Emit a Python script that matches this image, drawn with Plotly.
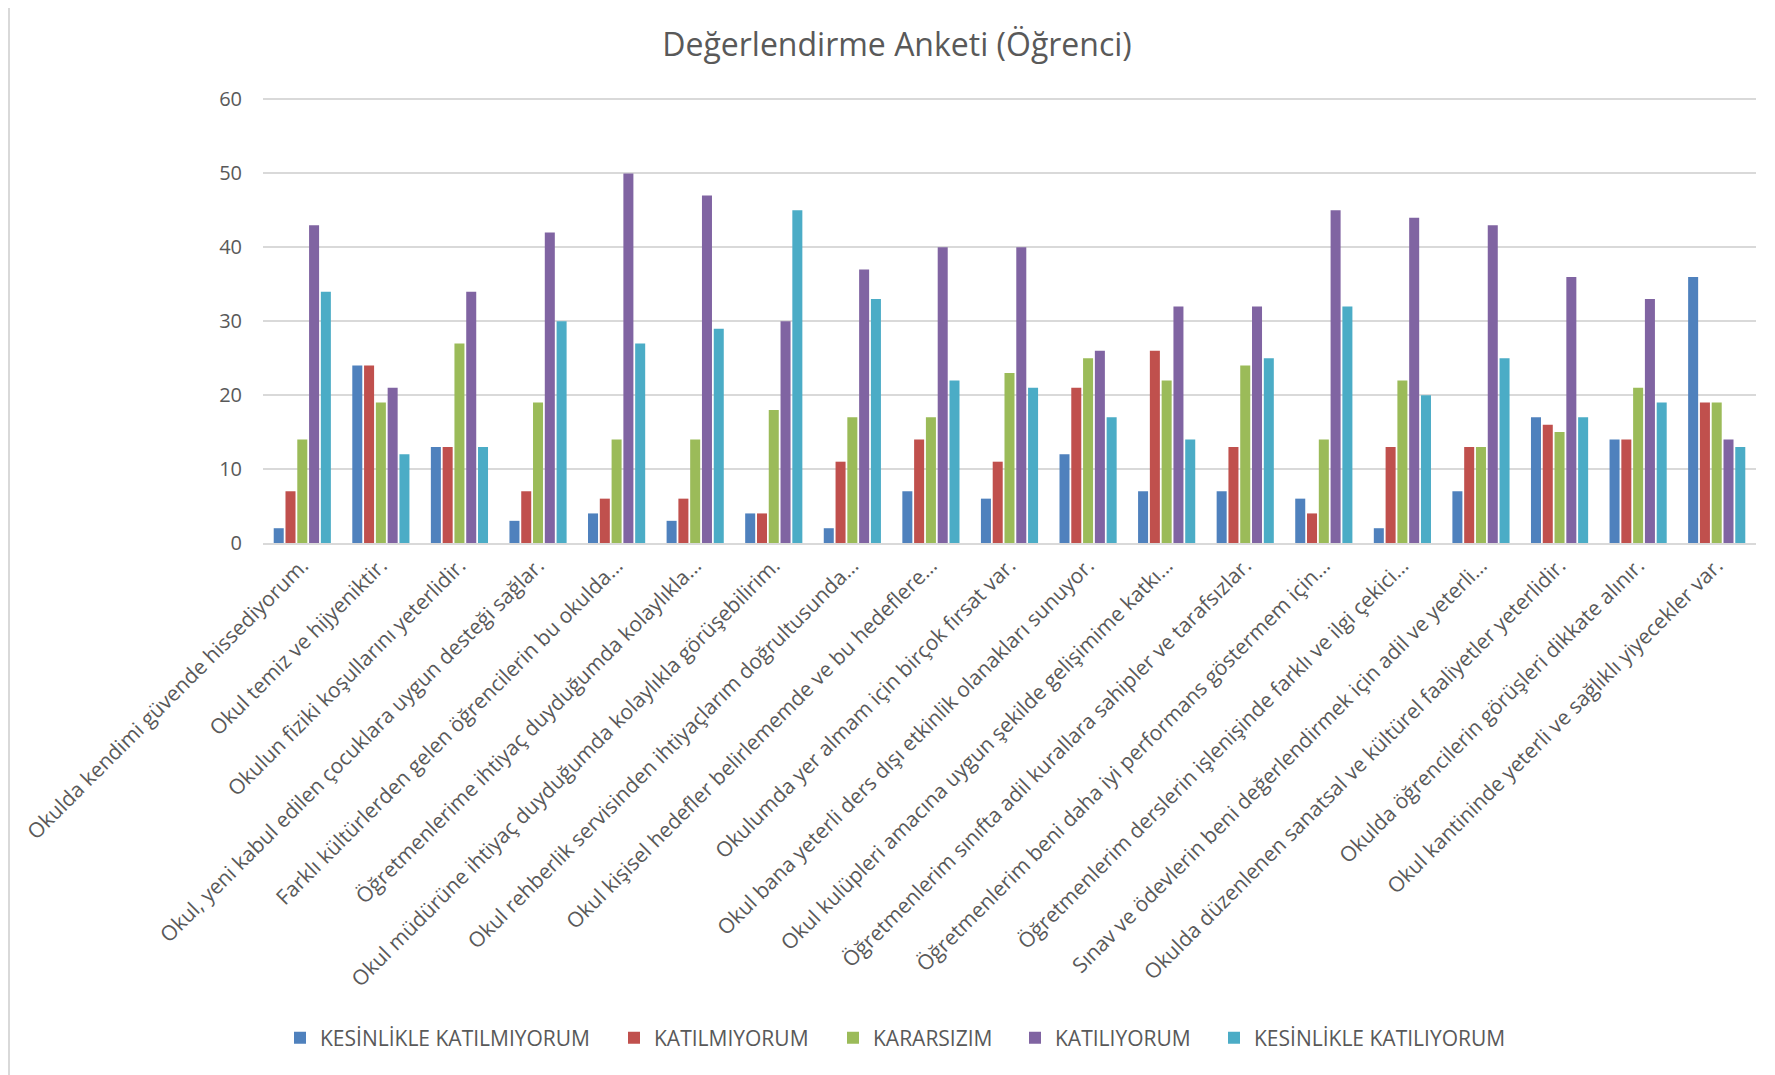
import plotly.graph_objects as go

categories = [
    "Okulda kendimi güvende hissediyorum.",
    "Okul temiz ve hijyeniktir.",
    "Okulun fiziki koşullarını yeterlidir.",
    "Okul, yeni kabul edilen çocuklara uygun desteği sağlar.",
    "Farklı kültürlerden gelen öğrencilerin bu okulda…",
    "Öğretmenlerime ihtiyaç duyduğumda kolaylıkla…",
    "Okul müdürüne ihtiyaç duyduğumda kolaylıkla görüşebilirim.",
    "Okul rehberlik servisinden ihtiyaçlarım doğrultusunda…",
    "Okul kişisel hedefler belirlememde ve bu hedeflere…",
    "Okulumda yer almam için birçok fırsat var.",
    "Okul bana yeterli ders dışı etkinlik olanakları sunuyor.",
    "Okul kulüpleri amacına uygun şekilde gelişimime katkı…",
    "Öğretmenlerim sınıfta adil kurallara sahipler ve tarafsızlar.",
    "Öğretmenlerim beni daha iyi performans göstermem için…",
    "Öğretmenlerim derslerin işlenişinde farklı ve ilgi çekici…",
    "Sınav ve ödevlerin beni değerlendirmek için adil ve yeterli…",
    "Okulda düzenlenen sanatsal ve kültürel faaliyetler yeterlidir.",
    "Okulda öğrencilerin görüşleri dikkate alınır.",
    "Okul kantininde yeterli ve sağlıklı yiyecekler var.",
]

series_names = [
    "KESİNLİKLE KATILMIYORUM",
    "KATILMIYORUM",
    "KARARSIZIM",
    "KATILIYORUM",
    "KESİNLİKLE KATILIYORUM",
]

kesinlikle_katilmiyorum = [2, 24, 13, 3, 4, 3, 4, 2, 7, 6, 12, 7, 7, 6, 2, 7, 17, 14, 36]
katilmiyorum = [7, 24, 13, 7, 6, 6, 4, 11, 14, 11, 21, 26, 13, 4, 13, 13, 16, 14, 19]
kararsizim = [14, 19, 27, 19, 14, 14, 18, 17, 17, 23, 25, 22, 24, 14, 22, 13, 15, 21, 19]
katiliyorum = [43, 21, 34, 42, 50, 47, 30, 37, 40, 40, 26, 32, 32, 45, 44, 43, 36, 33, 14]
kesinlikle_katiliyorum = [34, 12, 13, 30, 27, 29, 45, 33, 22, 21, 17, 14, 25, 32, 20, 25, 17, 19, 13]

y_ticks = [0, 10, 20, 30, 40, 50, 60]

series_values = [kesinlikle_katilmiyorum, katilmiyorum, kararsizim, katiliyorum, kesinlikle_katiliyorum]
colors = ["#4F81BD", "#C0504D", "#9BBB59", "#8064A2", "#4BACC6"]

text_color = "#595959"
grid_color = "#D9D9D9"

# page body has an 8px margin; figure is sized/laid out to compensate
W, H = 1767, 1067
L, R, T, B = 255, 19, 90, 532
pw = W - L - R
ph = H - T - B

legend_keys = ["legend", "legend2", "legend3", "legend4", "legend5"]
legend_text_x = [312, 646, 865, 1047, 1246]

fig = go.Figure()
for name, vals, col, lg in zip(series_names, series_values, colors, legend_keys):
    fig.add_trace(go.Bar(
        name=name,
        x=categories,
        y=vals,
        legend=lg,
        showlegend=True,
        marker=dict(color=col, line=dict(width=0)),
    ))

legend_style = dict(
    orientation="h",
    xref="container",
    yref="container",
    xanchor="left",
    y=1 - 1030 / H,
    yanchor="middle",
    font=dict(family="Open Sans", size=21, color=text_color),
    bgcolor="rgba(0,0,0,0)",
    borderwidth=0,
)
legends = {}
for lg, tx in zip(legend_keys, legend_text_x):
    legends[lg] = dict(legend_style, x=(tx - 40) / W)

fig.update_layout(
    width=W,
    height=H,
    showlegend=True,
    paper_bgcolor="white",
    plot_bgcolor="white",
    barmode="group",
    bargap=0.25,
    bargroupgap=0.15,
    margin=dict(l=L, r=R, t=T, b=B, autoexpand=False),
    title=dict(
        text="Değerlendirme Anketi (Öğrenci)",
        xref="container",
        x=889 / W,
        xanchor="center",
        yref="container",
        y=1 - 37 / H,
        yanchor="middle",
        font=dict(family="Open Sans", size=32, color=text_color),
    ),
    font=dict(family="Open Sans", color=text_color),
    **legends,
    xaxis=dict(
        tickangle=-45,
        tickfont=dict(family="Open Sans", size=21, color=text_color),
        showline=True,
        linecolor=grid_color,
        linewidth=2,
        showgrid=False,
        ticks="",
        automargin=False,
    ),
    yaxis=dict(
        range=[0, 60.2],
        tickvals=y_ticks,
        tickfont=dict(family="Open Sans", size=20, color=text_color),
        showgrid=True,
        gridcolor=grid_color,
        gridwidth=2,
        zeroline=False,
        showline=False,
        ticks="",
        ticklabelstandoff=20,
        automargin=False,
    ),
    shapes=[
        dict(type="line", xref="paper", yref="paper",
             x0=(1 - L) / pw, x1=(1 - L) / pw,
             y0=-B / ph, y1=(ph + T) / ph,
             line=dict(color=grid_color, width=2)),
    ],
)

fig.write_html("out.html")
